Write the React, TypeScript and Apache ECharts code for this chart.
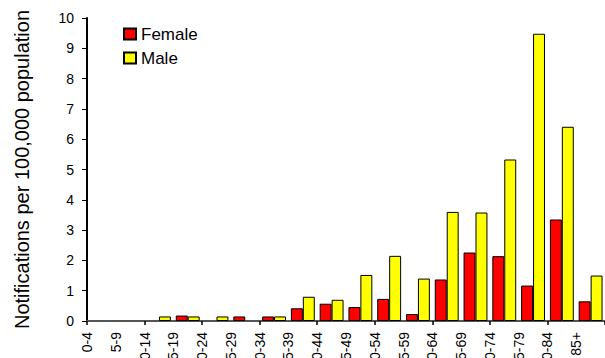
import React, { useEffect, useRef } from "react";
import * as echarts from "echarts";

const categories = ["0-4", "5-9", "10-14", "15-19", "20-24", "25-29", "30-34", "35-39", "40-44", "45-49", "50-54", "55-59", "60-64", "65-69", "70-74", "75-79", "80-84", "85+"];
const female = [0, 0, 0, 0.18, 0, 0.15, 0.15, 0.42, 0.57, 0.46, 0.73, 0.23, 1.37, 2.26, 2.14, 1.17, 3.35, 0.65];
const male = [0, 0, 0.15, 0.15, 0.15, 0, 0.15, 0.8, 0.7, 1.52, 2.15, 1.4, 3.6, 3.58, 5.33, 9.48, 6.41, 1.5];
const yTitle = "Notifications per 100,000 population";

const FONT = "'Liberation Sans', Arial, sans-serif";

export default function App() {
  const ref = useRef<HTMLDivElement>(null);
  useEffect(() => {
    const chart = echarts.init(ref.current!, null, { renderer: "svg" });
    const toData = (arr: number[]) => arr.map((v) => (v === 0 ? null : v));
    chart.setOption({
      animation: false,
      textStyle: { fontFamily: FONT },
      grid: { left: 87, right: 0, top: 18, bottom: 37, containLabel: false, outerBoundsMode: "none" },
      legend: {
        orient: "vertical",
        left: 118,
        top: 20,
        itemWidth: 12,
        itemHeight: 11,
        itemGap: 6,
        icon: "rect",
        textStyle: { fontSize: 17, color: "#000", fontFamily: FONT, lineHeight: 18 },
        data: ["Female", "Male"],
      },
      xAxis: [
        {
          type: "category",
          data: categories,
          boundaryGap: true,
          position: "bottom",
          axisLine: { show: true, lineStyle: { color: "#555", width: 2 } },
          axisTick: { show: true, length: 4, lineStyle: { color: "#000", width: 1.5 } },
          axisLabel: { show: false },
          splitLine: { show: false },
        },
        {
          type: "category",
          data: [...categories, ""],
          boundaryGap: false,
          position: "bottom",
          axisLine: { show: false },
          axisTick: { show: false },
          axisLabel: {
            show: true,
            rotate: 90,
            interval: 0,
            fontSize: 14,
            color: "#000",
            fontFamily: FONT,
            margin: 11,
          },
          splitLine: { show: false },
        },
      ],
      yAxis: {
        type: "value",
        min: 0,
        max: 10,
        interval: 1,
        name: yTitle,
        nameLocation: "middle",
        nameRotate: 90,
        nameGap: 55,
        nameTextStyle: { fontSize: 20, color: "#000", fontFamily: FONT },
        axisLine: { show: true, lineStyle: { color: "#000", width: 2 } },
        axisTick: { show: true, length: 5, lineStyle: { color: "#000", width: 1 } },
        axisLabel: { fontSize: 14, color: "#000", fontFamily: FONT, margin: 13 },
        splitLine: { show: false },
      },
      series: [
        {
          name: "Female",
          type: "bar",
          data: toData(female),
          barGap: "0%",
          barCategoryGap: "17%",
          itemStyle: { color: "#FF0000", borderColor: "#000", borderWidth: 1 },
        },
        {
          name: "Male",
          type: "bar",
          data: toData(male),
          barGap: "0%",
          barCategoryGap: "17%",
          itemStyle: { color: "#FFFF00", borderColor: "#000", borderWidth: 1 },
        },
      ],
    });
    return () => chart.dispose();
  }, []);
  return (
    <div
      ref={ref}
      style={{ position: "absolute", left: 0, top: 0, width: 605, height: 358, background: "#fff" }}
    />
  );
}
